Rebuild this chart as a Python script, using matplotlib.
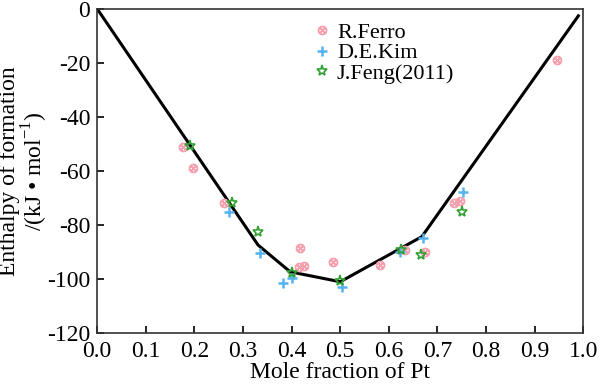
import matplotlib
matplotlib.use("Agg")
import matplotlib.pyplot as plt

plt.rcParams["font.family"] = ["Liberation Serif", "DejaVu Serif"]
plt.rcParams["mathtext.fontset"] = "custom"
plt.rcParams["mathtext.rm"] = "Liberation Serif"
plt.rcParams["axes.unicode_minus"] = False

# calculated curve
line_x = [0.0, 0.331, 0.397, 0.5, 0.668, 0.99]
line_y = [0.0, -87.4, -97.3, -101.0, -84.3, -2.6]

# R.Ferro
ferro_x = [0.177, 0.198, 0.261, 0.418, 0.415, 0.425, 0.486, 0.582, 0.634, 0.675, 0.735, 0.747, 0.947]
ferro_y = [-51.0, -59.0, -72.0, -88.5, -95.5, -95.0, -93.7, -94.8, -89.3, -90.0, -71.9, -71.0, -18.9]

# D.E.Kim
kim_x = [0.272, 0.335, 0.383, 0.400, 0.503, 0.623, 0.671, 0.753]
kim_y = [-75.0, -90.4, -101.6, -99.6, -103.0, -90.0, -84.8, -67.8]

# J.Feng(2011)
feng_x = [0.191, 0.278, 0.331, 0.401, 0.500, 0.626, 0.667, 0.751]
feng_y = [-50.7, -71.9, -82.5, -97.8, -100.7, -89.3, -91.0, -75.2]

fig = plt.figure(figsize=(6.0, 3.86), dpi=100)
ax = fig.add_axes([0.162, 0.137, 0.81, 0.84])

ax.plot(line_x, line_y, color="black", lw=2.2, zorder=2)
ax.plot(ferro_x, ferro_y, ls="none", marker=r"$\otimes$", ms=6, color="#f4a0ae",
        label="R.Ferro", zorder=3)
ax.plot(kim_x, kim_y, ls="none", marker="+", ms=7, mew=1.8, color="#55b4f0",
        label="D.E.Kim", zorder=3)
ax.plot(feng_x, feng_y, ls="none", marker="*", ms=8, mew=1.2, mfc="none",
        color="#33a033", label="J.Feng(2011)", zorder=3)

ax.set_xlim(0, 1.0)
ax.set_ylim(-120, 0)
ax.set_xticks([i / 10 for i in range(11)])
ax.set_xticklabels(["%.1f" % (i / 10) for i in range(11)])
ax.set_yticks(range(-120, 1, 20))
ax.tick_params(direction="in", labelsize=17, length=5, width=1.2)
ax.tick_params(axis="x", pad=6)
ax.tick_params(axis="y", pad=5)
for s in ax.spines.values():
    s.set_linewidth(1.2)
    s.set_color("#333333")

ax.set_xlabel("Mole fraction of Pt", fontsize=17, labelpad=0)
ax.set_ylabel("Enthalpy of formation\n/(kJ • mol$^{-1}$)", fontsize=17,
              labelpad=0, linespacing=0.95)
ax.yaxis.set_label_coords(-0.098, 0.5)

ax.legend(loc="upper left", bbox_to_anchor=(0.42, 1.0), frameon=False,
          fontsize=16, handlelength=0.7, handletextpad=0.3, labelspacing=0.0,
          borderaxespad=0.2)

fig.savefig("out.png", dpi=100)
